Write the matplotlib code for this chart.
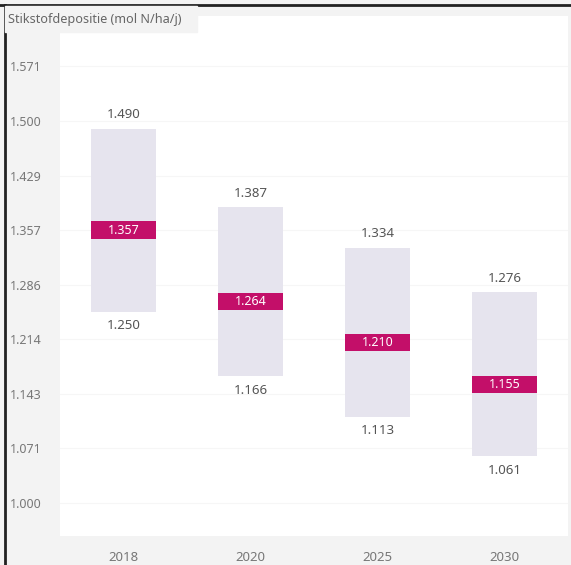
import matplotlib
matplotlib.use("Agg")
import matplotlib.pyplot as plt
from matplotlib.patches import Rectangle

plt.rcParams['font.family'] = ['Noto Sans', 'DejaVu Sans']

# data (mol N/ha/j)
years = ['2018', '2020', '2025', '2030']
low = [1250, 1166, 1113, 1061]
mid = [1357, 1264, 1210, 1155]
high = [1490, 1387, 1334, 1276]
yticks = [1000, 1071.4, 1142.9, 1214.3, 1285.7, 1357.1, 1428.6, 1500, 1571.4]
ytick_labels = ['1.000', '1.071', '1.143', '1.214', '1.286', '1.357', '1.429', '1.500', '1.571']


def nl(v):
    return f"{v:,.0f}".replace(",", ".")


fig = plt.figure(figsize=(5.71, 5.65), dpi=100, facecolor='#f3f3f3')
ax = fig.add_axes([60 / 571, 1 - 536 / 565, 508 / 571, 520 / 565])
ax.set_facecolor('white')

bar_w = 0.51
box_h = 23
x = list(range(len(years)))
ax.bar(x, [h - l for h, l in zip(high, low)], bottom=low, width=bar_w,
       color='#e6e4ee', zorder=2)
ax.bar(x, [box_h] * len(x), bottom=[m - box_h / 2 for m in mid], width=bar_w,
       color='#c30f69', zorder=3)

for i in x:
    ax.text(i, mid[i], nl(mid[i]), color='white', ha='center', va='center',
            fontsize=9, zorder=4)
    ax.annotate(nl(high[i]), (i, high[i]), xytext=(0, 10), textcoords='offset points',
                ha='center', va='center', fontsize=9.5, color='#555555')
    ax.annotate(nl(low[i]), (i, low[i]), xytext=(0, -10), textcoords='offset points',
                ha='center', va='center', fontsize=9.5, color='#555555')

ax.set_xlim(-0.5, 3.5)
ax.set_ylim(956.8, 1637.4)
ax.set_yticks(yticks)
ax.set_yticklabels(ytick_labels)
ax.set_xticks(x)
ax.set_xticklabels(years)
ax.tick_params(axis='y', length=0, pad=13, labelsize=9, labelcolor='#777777')
ax.tick_params(axis='x', length=0, pad=11, labelsize=9.5, labelcolor='#777777')
ax.grid(axis='y', color='#f6f6f6', linewidth=0.8, zorder=0)
ax.set_axisbelow(True)
for s in ax.spines.values():
    s.set_visible(False)

# title box and outer frame
fig.patches.append(Rectangle((5 / 571, 1 - 32 / 565), 192 / 571, 26 / 565,
                             transform=fig.transFigure, color='#f3f3f3', zorder=5))
fig.text(8 / 571, 1 - 19 / 565, 'Stikstofdepositie (mol N/ha/j)', fontsize=9.1,
         color='#666666', va='center', ha='left', zorder=6)
fig.add_artist(plt.Line2D([0, 1], [1 - 5 / 565] * 2, color='#222222', linewidth=2,
                          transform=fig.transFigure))
fig.add_artist(plt.Line2D([5 / 571] * 2, [0, 1 - 5 / 565], color='#222222', linewidth=2,
                          transform=fig.transFigure))

fig.savefig('out.png', dpi=100, facecolor=fig.get_facecolor())
